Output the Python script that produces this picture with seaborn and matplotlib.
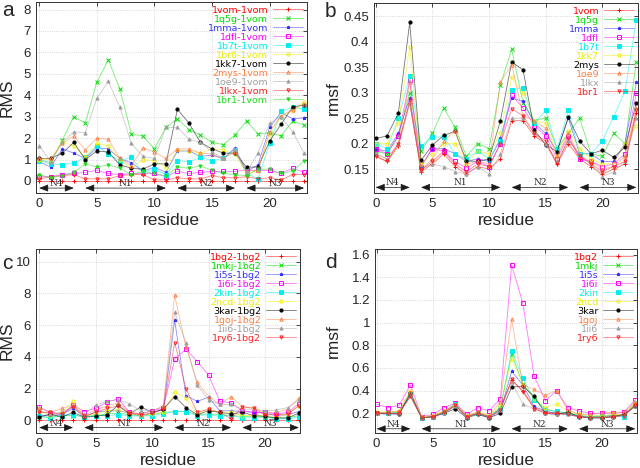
import matplotlib
matplotlib.use("Agg")
import matplotlib.pyplot as plt
from matplotlib.colors import to_rgba
from matplotlib.ticker import FuncFormatter, MultipleLocator
import pandas as pd
import seaborn as sns

sns.set_style("white")
plt.rcParams['font.family'] = ['Liberation Sans', 'DejaVu Sans']

residue = list(range(24))

# panel a: RMS relative to 1vom
a_names = ['1vom-1vom', '1q5g-1vom', '1mma-1vom', '1dfl-1vom', '1b7t-1vom', '1br6-1vom',
           '1kk7-1vom', '2mys-1vom', '1oe9-1vom', '1lkx-1vom', '1br1-1vom']
a_vals = [
    [0] * 24,
    [1.0, 0.85, 1.9, 3.0, 2.7, 4.6, 5.65, 4.3, 2.2, 2.1, 1.5, 2.5, 2.9, 2.4, 2.15, 1.8, 1.7, 2.15, 2.8, 2.2, 2.25, 2.1, 2.8, 2.6],
    [0.9, 0.65, 1.5, 1.3, 1.05, 1.55, 1.5, 1.05, 0.85, 0.45, 0.65, 0.4, 1.4, 1.4, 1.15, 1.2, 1.05, 1.55, 0.45, 0.75, 2.5, 3.2, 2.9, 2.95],
    [0.2, 0.2, 0.3, 0.35, 0.4, 0.5, 0.35, 0.3, 0.35, 0.35, 0.35, 0.2, 0.45, 0.35, 0.4, 0.45, 0.45, 0.45, 0.5, 0.5, 0.5, 0.35, 0.6, 0.4],
    [0.95, 0.8, 0.75, 0.85, 1.1, 1.65, 1.25, 0.95, 1.1, 0.4, 0.55, 0.3, 0.95, 0.9, 1.1, 0.95, 1.05, 1.45, 0.35, 0.1, 1.75, 3.25, 3.45, 3.35],
    [1.0, 1.0, 1.8, 1.65, 1.1, 1.75, 1.65, 1.0, 0.6, 1.0, 0.95, 0.6, 1.45, 1.4, 1.3, 1.5, 1.45, 1.25, 0.35, 0.45, 2.2, 3.0, 3.3, 3.7],
    [1.05, 1.05, 1.3, 1.8, 1.0, 1.4, 1.35, 0.75, 0.6, 0.55, 0.8, 0.8, 3.35, 2.7, 1.8, 1.5, 1.3, 1.3, 0.65, 0.65, 1.85, 2.65, 3.45, 3.55],
    [1.05, 1.05, 1.75, 2.1, 1.45, 2.0, 1.95, 1.05, 0.7, 1.55, 1.35, 1.05, 1.5, 1.5, 1.3, 1.25, 1.05, 1.35, 0.45, 0.5, 2.3, 3.05, 3.3, 3.6],
    [1.65, 0.9, 1.8, 2.3, 2.25, 3.85, 4.65, 3.45, 1.75, 1.15, 1.05, 2.5, 2.5, 1.95, 1.8, 1.35, 1.05, 1.5, 0.4, 1.3, 2.7, 3.0, 2.3, 1.3],
    [0.1, 0.2, 0.25, 0.3, 0.1, 0.1, 0.1, 0.25, 0.3, 0.3, 0.05, 0.05, 0.15, 0.1, 0.1, 0.25, 0.15, 0.15, 0.2, 0.1, 0.15, 0.05, 0.3, 0.3],
    [0.3, 0.15, 0.25, 0.4, 0.8, 0.65, 0.75, 0.6, 0.3, 0.45, 0.35, 0.25, 0.65, 0.6, 0.7, 0.5, 0.35, 0.3, 0.25, 0.55, 0.55, 0.35, 0.45, 0.95],
]

# panel b: rmsf of the 1vom family
b_names = ['1vom', '1q5g', '1mma', '1dfl', '1b7t', '1kk7', '2mys', '1oe9', '1lkx', '1br1']
b_vals = [
    [0.175, 0.165, 0.195, 0.28, 0.145, 0.16, 0.18, 0.155, 0.14, 0.155, 0.15, 0.17, 0.245, 0.245, 0.215, 0.2, 0.16, 0.2, 0.17, 0.155, 0.14, 0.15, 0.16, 0.26],
    [0.185, 0.18, 0.215, 0.3, 0.185, 0.22, 0.27, 0.232, 0.175, 0.2, 0.19, 0.315, 0.385, 0.28, 0.245, 0.25, 0.19, 0.22, 0.25, 0.18, 0.175, 0.22, 0.2, 0.36],
    [0.19, 0.185, 0.22, 0.29, 0.155, 0.19, 0.19, 0.18, 0.165, 0.17, 0.165, 0.21, 0.29, 0.283, 0.24, 0.22, 0.185, 0.25, 0.18, 0.18, 0.165, 0.165, 0.2, 0.32],
    [0.19, 0.18, 0.215, 0.325, 0.155, 0.19, 0.185, 0.165, 0.152, 0.165, 0.155, 0.2, 0.295, 0.27, 0.235, 0.215, 0.17, 0.215, 0.17, 0.165, 0.155, 0.16, 0.18, 0.3],
    [0.2, 0.19, 0.25, 0.333, 0.195, 0.213, 0.213, 0.18, 0.17, 0.185, 0.17, 0.205, 0.305, 0.31, 0.24, 0.265, 0.19, 0.265, 0.18, 0.18, 0.205, 0.253, 0.303, 0.443],
    [0.2, 0.2, 0.24, 0.39, 0.16, 0.18, 0.2, 0.2, 0.16, 0.185, 0.18, 0.22, 0.33, 0.3, 0.245, 0.24, 0.18, 0.225, 0.19, 0.17, 0.16, 0.16, 0.2, 0.235],
    [0.21, 0.215, 0.26, 0.438, 0.167, 0.197, 0.216, 0.224, 0.166, 0.165, 0.17, 0.244, 0.36, 0.345, 0.226, 0.198, 0.184, 0.252, 0.205, 0.18, 0.187, 0.173, 0.193, 0.28],
    [0.18, 0.17, 0.2, 0.32, 0.148, 0.17, 0.205, 0.225, 0.16, 0.165, 0.16, 0.32, 0.355, 0.255, 0.245, 0.23, 0.175, 0.22, 0.175, 0.165, 0.15, 0.155, 0.175, 0.27],
    [0.18, 0.17, 0.2, 0.28, 0.15, 0.16, 0.155, 0.145, 0.14, 0.155, 0.14, 0.18, 0.25, 0.25, 0.22, 0.2, 0.165, 0.205, 0.18, 0.16, 0.135, 0.145, 0.165, 0.25],
    [0.175, 0.165, 0.2, 0.285, 0.148, 0.165, 0.185, 0.16, 0.145, 0.16, 0.155, 0.2, 0.268, 0.255, 0.22, 0.205, 0.16, 0.21, 0.175, 0.16, 0.145, 0.155, 0.165, 0.265],
]

# panel c: RMS relative to 1bg2
c_names = ['1bg2-1bg2', '1mkj-1bg2', '1i5s-1bg2', '1i6i-1bg2', '2kin-1bg2', '2ncd-1bg2',
           '3kar-1bg2', '1goj-1bg2', '1ii6-1bg2', '1ry6-1bg2']
c_vals = [
    [0] * 24,
    [0.2, 0.2, 0.3, 0.3, 0.25, 0.3, 0.4, 0.45, 0.35, 0.3, 0.35, 0.5, 0.55, 0.55, 0.35, 0.4, 0.35, 0.3, 0.25, 0.25, 0.2, 0.15, 0.15, 0.3],
    [0.3, 0.3, 0.35, 0.75, 0.25, 0.5, 0.6, 0.6, 0.45, 0.3, 0.45, 0.7, 6.3, 1.55, 1.2, 1.45, 0.6, 0.6, 0.55, 0.5, 0.45, 0.3, 0.35, 0.55],
    [0.85, 0.45, 0.35, 0.95, 0.55, 0.75, 1.15, 1.35, 0.5, 0.4, 0.6, 0.75, 3.85, 4.5, 3.7, 2.85, 1.2, 1.1, 0.6, 0.5, 0.5, 0.4, 0.5, 1.05],
    [0.3, 0.15, 0.3, 0.35, 0.2, 0.3, 0.3, 0.35, 0.3, 0.25, 0.3, 0.4, 0.55, 0.55, 0.3, 0.35, 0.25, 0.3, 0.15, 0.15, 0.2, 0.1, 0.1, 0.2],
    [0.6, 0.3, 0.5, 1.2, 0.3, 0.4, 0.6, 0.65, 0.4, 0.35, 0.4, 0.5, 1.8, 1.4, 0.4, 0.7, 0.5, 0.5, 0.3, 0.3, 0.3, 0.2, 0.4, 0.9],
    [0.2, 0.4, 0.2, 0.5, 0.2, 0.25, 0.35, 0.95, 0.4, 0.85, 0.5, 0.7, 1.5, 0.8, 0.35, 0.6, 0.5, 0.4, 0.5, 0.3, 0.25, 0.15, 0.15, 0.45],
    [0.8, 0.5, 0.75, 0.95, 0.3, 0.65, 0.9, 1.1, 0.5, 0.4, 0.6, 0.9, 7.9, 4.6, 2.4, 1.5, 1.0, 1.5, 0.85, 0.8, 0.5, 0.5, 0.7, 1.4],
    [0.6, 0.4, 0.5, 0.9, 0.4, 0.95, 1.2, 1.3, 1.05, 0.6, 0.6, 0.85, 6.8, 4.9, 2.2, 1.3, 1.0, 1.0, 0.7, 0.7, 0.6, 0.65, 0.8, 1.3],
    [0.5, 0.5, 0.4, 0.85, 0.25, 0.5, 0.75, 0.9, 0.45, 0.35, 0.45, 0.7, 4.9, 2.0, 0.5, 0.7, 0.5, 0.1, 0.85, 0.75, 0.35, 0.35, 0.4, 0.9],
]

# panel d: rmsf of the 1bg2 family
d_names = ['1bg2', '1mkj', '1i5s', '1i6i', '2kin', '2ncd', '3kar', '1goj', '1ii6', '1ry6']
d_vals = [
    [0.2, 0.2, 0.2, 0.36, 0.16, 0.17, 0.21, 0.27, 0.17, 0.2, 0.17, 0.24, 0.49, 0.4, 0.25, 0.21, 0.2, 0.2, 0.17, 0.17, 0.17, 0.18, 0.19, 0.28],
    [0.2, 0.2, 0.21, 0.37, 0.16, 0.17, 0.21, 0.29, 0.17, 0.2, 0.17, 0.25, 0.72, 0.46, 0.33, 0.24, 0.21, 0.2, 0.18, 0.17, 0.17, 0.18, 0.18, 0.29],
    [0.2, 0.19, 0.2, 0.36, 0.16, 0.17, 0.2, 0.27, 0.17, 0.2, 0.16, 0.22, 0.57, 0.45, 0.26, 0.22, 0.2, 0.19, 0.17, 0.16, 0.16, 0.17, 0.18, 0.27],
    [0.28, 0.25, 0.27, 0.45, 0.17, 0.19, 0.25, 0.29, 0.19, 0.25, 0.22, 0.33, 1.51, 1.17, 0.53, 0.31, 0.4, 0.25, 0.22, 0.2, 0.2, 0.2, 0.21, 0.32],
    [0.2, 0.2, 0.21, 0.37, 0.16, 0.17, 0.21, 0.28, 0.17, 0.2, 0.17, 0.24, 0.75, 0.51, 0.32, 0.23, 0.22, 0.2, 0.18, 0.17, 0.18, 0.18, 0.17, 0.29],
    [0.21, 0.21, 0.22, 0.4, 0.17, 0.18, 0.22, 0.27, 0.18, 0.21, 0.18, 0.26, 0.68, 0.45, 0.33, 0.25, 0.28, 0.22, 0.19, 0.18, 0.18, 0.19, 0.19, 0.29],
    [0.2, 0.2, 0.19, 0.38, 0.16, 0.17, 0.2, 0.24, 0.16, 0.19, 0.16, 0.2, 0.43, 0.44, 0.35, 0.2, 0.19, 0.21, 0.17, 0.16, 0.16, 0.17, 0.19, 0.26],
    [0.2, 0.21, 0.22, 0.39, 0.17, 0.18, 0.22, 0.27, 0.18, 0.21, 0.18, 0.3, 1.03, 0.45, 0.41, 0.36, 0.4, 0.23, 0.19, 0.19, 0.2, 0.21, 0.21, 0.3],
    [0.2, 0.2, 0.2, 0.35, 0.16, 0.17, 0.2, 0.26, 0.17, 0.2, 0.17, 0.23, 0.48, 0.28, 0.24, 0.2, 0.19, 0.19, 0.17, 0.16, 0.16, 0.17, 0.18, 0.27],
    [0.2, 0.2, 0.2, 0.35, 0.16, 0.17, 0.21, 0.27, 0.17, 0.2, 0.17, 0.23, 0.5, 0.39, 0.24, 0.2, 0.2, 0.19, 0.17, 0.16, 0.16, 0.17, 0.18, 0.27],
]

regions = ['N4', 'N1', 'N2', 'N3']
region_start = [0, 4, 12, 18]
region_end = [3, 11, 17, 23]

colors = ['#ff0000', '#00dd00', '#3030ff', '#ff00ff', '#00eeee', '#eeee00',
          '#000000', '#ff7f40', '#a0a0a0', '#ff2020', '#20dd20']
markers = ['+', 'x', '*', 's', 's', 'o', 'o', '^', '^', 'v', 'v']
filled = [True, True, True, False, True, False, True, False, True, False, True]


def draw_panel(ax, names, vals, ylim, ystep, ylab, arrow_y, xlim):
    for i, (name, v) in enumerate(zip(names, vals)):
        df = pd.DataFrame({'residue': residue, 'value': v})
        sns.lineplot(data=df, x='residue', y='value', ax=ax, label=name,
                     color=to_rgba(colors[i], 0.55), marker=markers[i], markersize=2.3,
                     markerfacecolor=colors[i] if filled[i] else 'none',
                     markeredgecolor=colors[i], markeredgewidth=0.7,
                     linewidth=0.6)
    for lab, s, e in zip(regions, region_start, region_end):
        ax.annotate('', xy=(e, arrow_y), xytext=(s, arrow_y),
                    arrowprops=dict(arrowstyle='<|-|>,head_length=0.55,head_width=0.22',
                                    color='0.1', lw=0.5, shrinkA=0, shrinkB=0))
        ax.text((s + e) / 2, arrow_y, lab, ha='center', va='bottom',
                family='DejaVu Serif', fontsize=6.5)
    ax.set_xlim(*xlim)
    ax.set_ylim(*ylim)
    ax.xaxis.set_major_locator(MultipleLocator(5))
    ax.yaxis.set_major_locator(MultipleLocator(ystep))
    ax.yaxis.set_major_formatter(FuncFormatter(lambda y, p: '%g' % round(y, 3)))
    ax.grid(True, color='0.8', linestyle=':', linewidth=0.6)
    ax.tick_params(direction='in', length=3, width=0.6, labelsize=9.5,
                   top=True, right=True)
    for sp in ax.spines.values():
        sp.set_linewidth(0.7)
        sp.set_color('0.2')
    ax.set_xlabel('residue', fontsize=12.5)
    ax.set_ylabel(ylab, fontsize=12.5)
    ax.legend(loc='upper right', frameon=False, markerfirst=False,
              labelcolor='markeredgecolor', prop={'family': 'DejaVu Sans', 'size': 6.8},
              handlelength=3.2, handletextpad=0.5, labelspacing=0.0,
              borderaxespad=0.2, borderpad=0.2)


fig = plt.figure(figsize=(6.4, 4.68), dpi=100)
ax_a = fig.add_axes([0.05625, 0.5876, 0.4234, 0.4081])
ax_b = fig.add_axes([0.5844, 0.5876, 0.4125, 0.406])
ax_c = fig.add_axes([0.05625, 0.0748, 0.4125, 0.3932])
ax_d = fig.add_axes([0.5859, 0.0748, 0.4094, 0.3932])

draw_panel(ax_a, a_names, a_vals, (-0.56, 8.35), 1, 'RMS', -0.33, (-0.28, 23.25))
draw_panel(ax_b, b_names, b_vals, (0.103, 0.476), 0.05, 'rmsf', 0.114, (-0.15, 23.15))
draw_panel(ax_c, c_names, c_vals, (-0.8, 10.8), 2, 'RMS', -0.46, (-0.28, 23.1))
draw_panel(ax_d, d_names, d_vals, (0.026, 1.65), 0.2, 'rmsf', 0.063, (-0.15, 23.15))

for ax, xl in [(ax_a, -0.078), (ax_b, -0.125), (ax_c, -0.08), (ax_d, -0.13)]:
    ax.yaxis.set_label_coords(xl, 0.5)
ax_a.xaxis.set_label_coords(0.5, -0.105)
ax_b.xaxis.set_label_coords(0.5, -0.105)
ax_c.xaxis.set_label_coords(0.5, -0.11)
ax_d.xaxis.set_label_coords(0.5, -0.11)

fig.text(0.004, 0.998, 'a', fontsize=15, va='top')
fig.text(0.508, 0.995, 'b', fontsize=15, va='top')
fig.text(0.004, 0.458, 'c', fontsize=15, va='top')
fig.text(0.508, 0.46, 'd', fontsize=15, va='top')

fig.savefig('out.png', dpi=100)
